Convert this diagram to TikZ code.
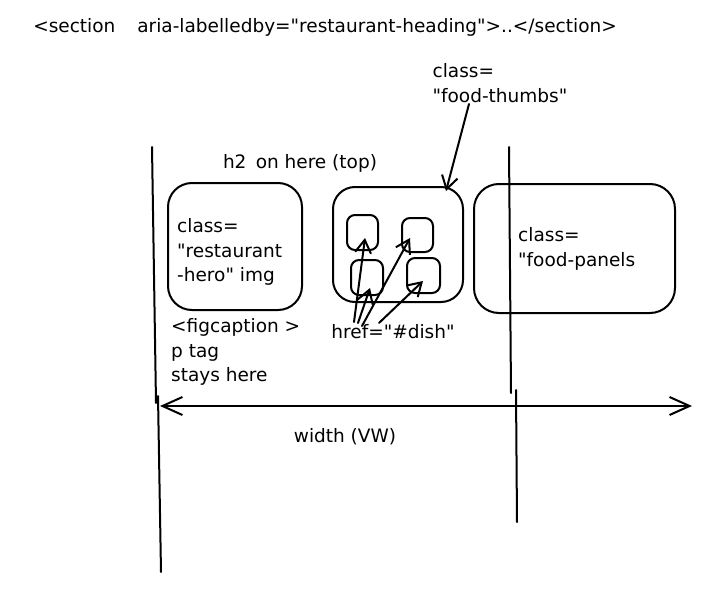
\documentclass[tikz,border=0pt]{standalone}
\usepackage{fontspec}
\setmainfont{DejaVu Sans}[Ligatures=TeXOff]
\usetikzlibrary{arrows.meta}
\begin{document}
\begin{tikzpicture}[x=1pt,y=-1pt,
  ln/.style={line width=2pt, line cap=round, line join=round},
  box/.style={draw, ln, rounded corners=#1, inner sep=0},
  lbl/.style={font=\fontsize{18.5}{24.5}\selectfont, inner sep=0, align=left},
  barb/.style={ln, -{Straight Barb[length=13pt,width=16pt,line width=2pt]}},
  dbl/.style={ln, {Straight Barb[length=20pt,width=18pt,line width=2pt]}-{Straight Barb[length=20pt,width=18pt,line width=2pt]}}]
\fill[white] (0,0) rectangle (705,605);
\useasboundingbox (0,0) rectangle (705,605);

% top text
\node[lbl] (sec) at (325,27) {<section\hspace{22pt}aria-labelledby="restaurant-heading">..</section>};

% vertical guides
\coordinate (L1) at (152,147); \coordinate (L2) at (156,403);
\coordinate (L3) at (158,396); \coordinate (L4) at (161,572);
\draw[ln] (L1) -- (L2);
\draw[ln] (L3) -- (L4);
\coordinate (R1) at (509,147); \coordinate (R2) at (511,393);
\coordinate (R3) at (516,390); \coordinate (R4) at (517,522);
\draw[ln] (R1) -- (R2);
\draw[ln] (R3) -- (R4);

% width arrow
\coordinate (WL) at (160,406); \coordinate (WR) at (692,406);
\draw[dbl] (WL) -- (WR);
\node[lbl] (wd) at (345,437) {width (VW)};

% h2 label
\node[lbl] (h2) at (300,163) {h2\enspace on here (top)};

% hero box
\node[box=24, minimum width=134pt, minimum height=127pt] (hero) at (235,246.5) {};
\node[lbl, anchor=west] (herotxt) at (177,252) {class=\\"restaurant\\-hero" img};
\node[lbl, anchor=west] (fig) at (171,352) {<figcaption >\\p tag\\stays here};

% thumbs box
\node[box=22, minimum width=130pt, minimum height=115pt] (thumbs) at (398,244.5) {};
\node[box=8, minimum width=31pt, minimum height=35pt] (t1) at (362.5,232.5) {};
\node[box=8, minimum width=31pt, minimum height=34pt] (t2) at (417.5,235) {};
\node[box=8, minimum width=32pt, minimum height=35pt] (t3) at (367,277.5) {};
\node[box=8, minimum width=33pt, minimum height=35pt] (t4) at (423.5,275.5) {};

% food-thumbs label + arrow
\node[lbl] (ft) at (500,83) {class=\\"food-thumbs"};
\coordinate (ftA) at (469,104); \coordinate (ftB) at (446,191);
\draw[barb] (ftA) -- (ftB);

% href label + arrows
\node[lbl] (href) at (393,332) {href="\#dish"};
\coordinate (h1) at (354,322); \coordinate (e1) at (365,238);
\coordinate (h2s) at (358,323); \coordinate (e2) at (370,288);
\coordinate (h3) at (362,326); \coordinate (e3) at (410,238);
\coordinate (h4) at (379,323); \coordinate (e4) at (423,281);
\draw[barb] (h1) -- (e1);
\draw[barb] (h2s) -- (e2);
\draw[barb] (h3) -- (e3);
\draw[barb] (h4) -- (e4);

% panels box
\node[box=25, minimum width=201pt, minimum height=129pt] (panels) at (574.5,248.5) {};
\node[lbl, anchor=west] (paneltxt) at (518,249) {class=\\"food-panels};
\end{tikzpicture}
\end{document}
